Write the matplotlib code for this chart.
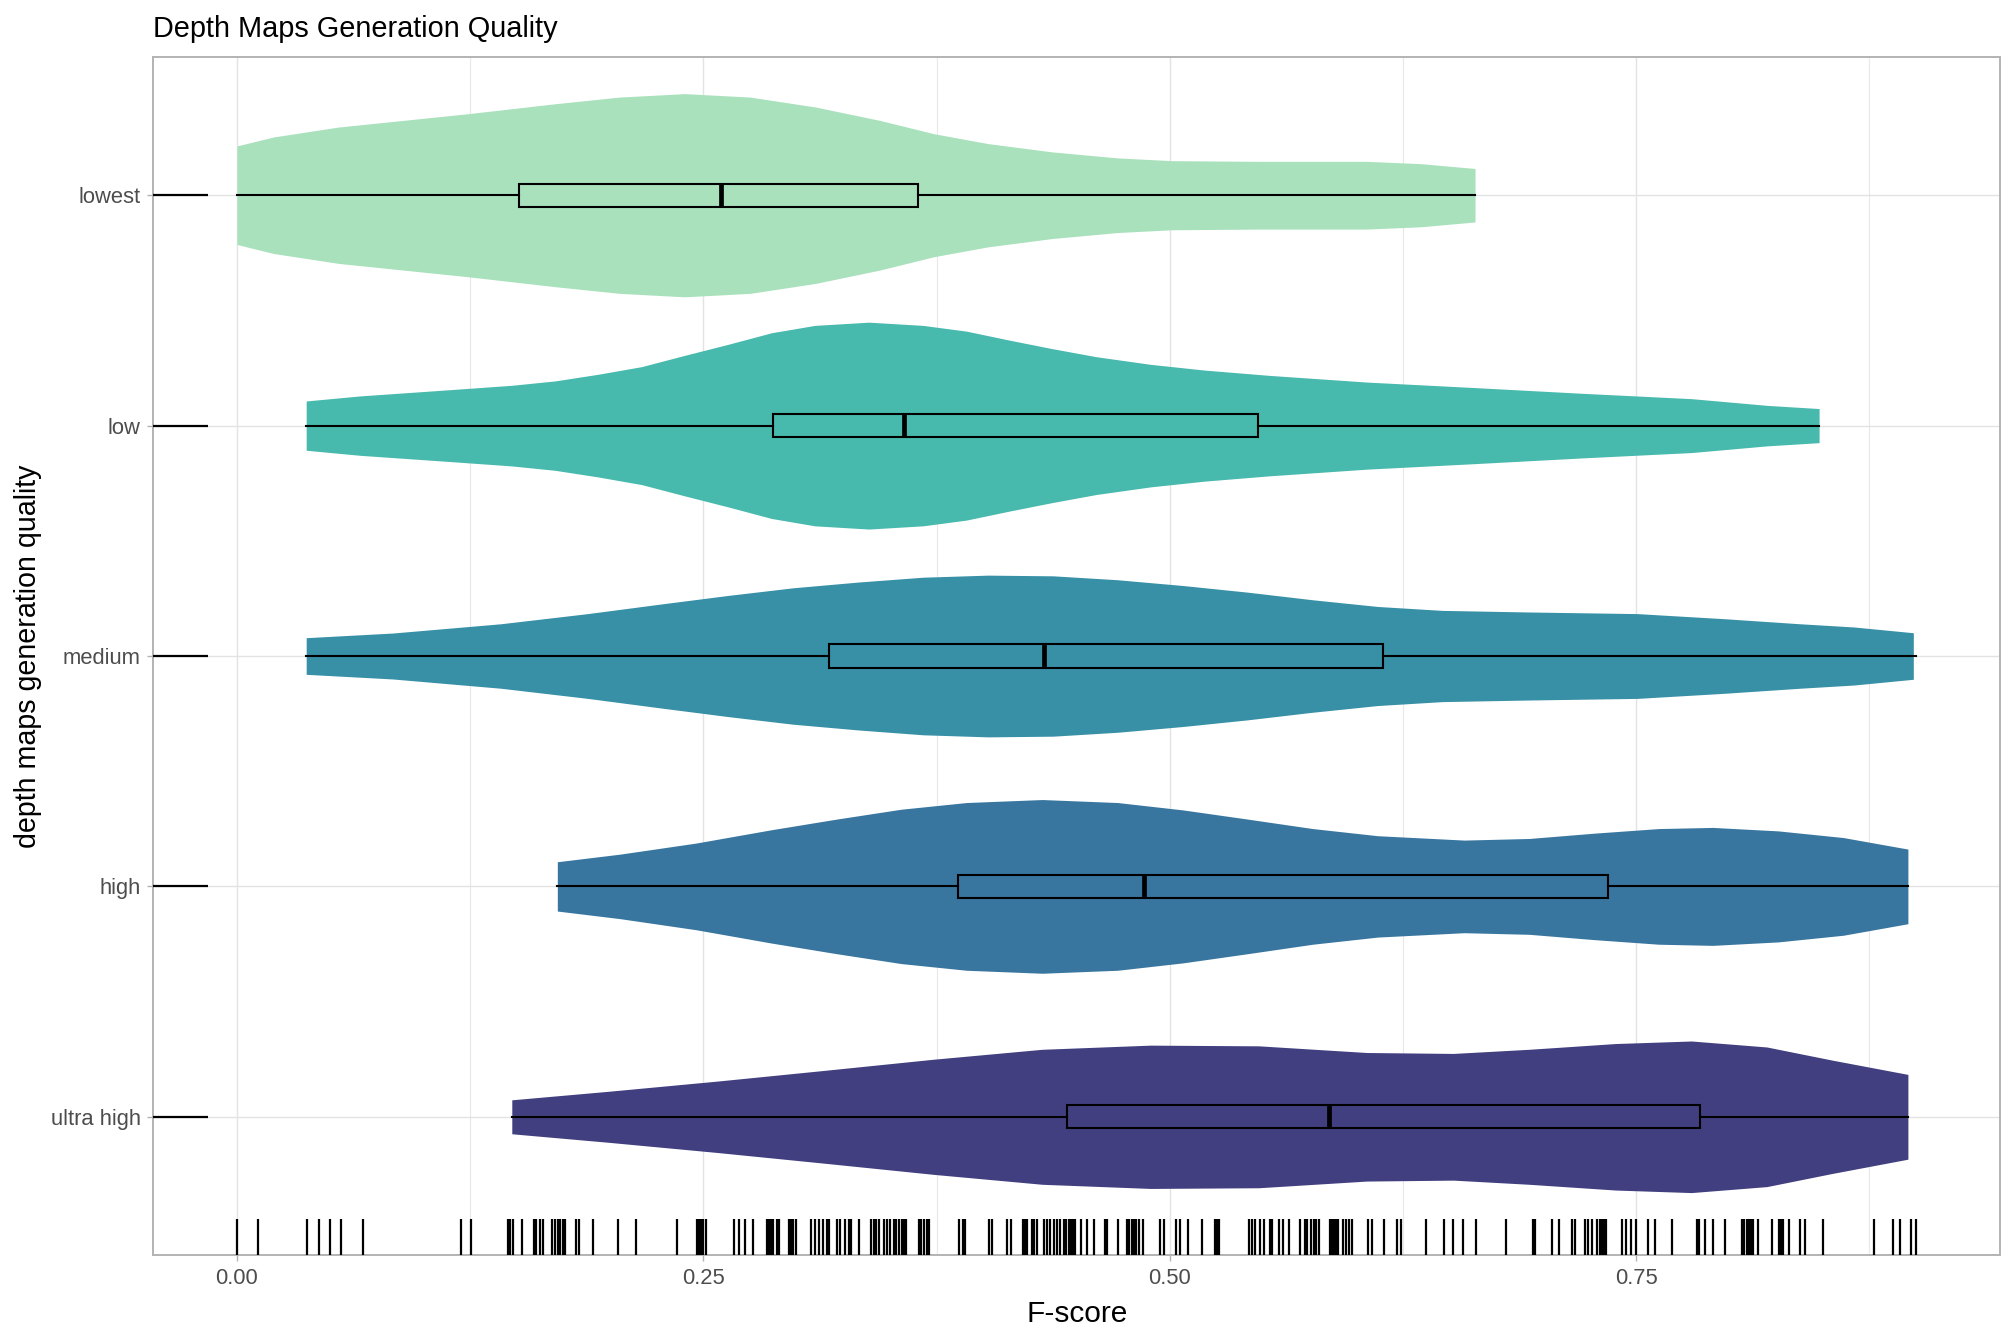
import matplotlib.pyplot as plt
from matplotlib.ticker import MultipleLocator

plt.rcParams['font.family'] = ['Liberation Sans', 'DejaVu Sans']

# categories, bottom to top
groups = ['ultra high', 'high', 'medium', 'low', 'lowest']
colors = ['#413F7F', '#38769F', '#3790A6', '#48B9AD', '#A9E1BD']

# violin outlines: F-score and half width (in category units)
lowest_x = [0.0, 0.0197, 0.0545, 0.0893, 0.124, 0.1705, 0.205, 0.240, 0.275, 0.310,
            0.3445, 0.3735, 0.4026, 0.437, 0.472, 0.501, 0.5476, 0.6056, 0.6346, 0.6636]
lowest_w = [0.214, 0.253, 0.296, 0.325, 0.354, 0.397, 0.426, 0.441, 0.426, 0.383,
            0.325, 0.267, 0.224, 0.188, 0.162, 0.150, 0.147, 0.147, 0.137, 0.116]

low_x = [0.0371, 0.0661, 0.1125, 0.1473, 0.1705, 0.1937, 0.2169, 0.240, 0.2633, 0.2865,
         0.3097, 0.3387, 0.3677, 0.391, 0.414, 0.437, 0.4606, 0.4896, 0.5186, 0.5534,
         0.6056, 0.6636, 0.7216, 0.7796, 0.820, 0.848]
low_w = [0.107, 0.129, 0.155, 0.175, 0.194, 0.223, 0.256, 0.305, 0.353, 0.403,
         0.435, 0.449, 0.435, 0.410, 0.371, 0.334, 0.299, 0.266, 0.241, 0.218,
         0.189, 0.165, 0.140, 0.117, 0.088, 0.074]

medium_x = [0.0371, 0.0835, 0.1415, 0.188, 0.2285, 0.2633, 0.298, 0.333, 0.3677, 0.4026,
            0.4374, 0.472, 0.507, 0.5418, 0.5766, 0.6114, 0.646, 0.6926, 0.7506, 0.797,
            0.8376, 0.8666, 0.8985]
medium_w = [0.0795, 0.0997, 0.140, 0.184, 0.227, 0.263, 0.296, 0.321, 0.342, 0.351,
            0.348, 0.331, 0.306, 0.277, 0.244, 0.215, 0.198, 0.191, 0.184, 0.162,
            0.140, 0.126, 0.101]

high_x = [0.1717, 0.2053, 0.246, 0.2865, 0.3213, 0.356, 0.391, 0.4316, 0.472, 0.507,
          0.5418, 0.5766, 0.6114, 0.6578, 0.6926, 0.7274, 0.762, 0.791, 0.826, 0.861, 0.8956]
high_w = [0.107, 0.140, 0.188, 0.246, 0.292, 0.335, 0.364, 0.377, 0.364, 0.332,
          0.292, 0.251, 0.220, 0.201, 0.208, 0.231, 0.251, 0.256, 0.241, 0.212, 0.162]

ultra_x = [0.1473, 0.1995, 0.2575, 0.3155, 0.3735, 0.4316, 0.4896, 0.5476, 0.6056, 0.652,
           0.6926, 0.739, 0.7796, 0.820, 0.855, 0.8956]
ultra_w = [0.0737, 0.111, 0.155, 0.202, 0.250, 0.293, 0.311, 0.308, 0.279, 0.275,
           0.293, 0.318, 0.329, 0.303, 0.246, 0.184]

violin_x = [ultra_x, high_x, medium_x, low_x, lowest_x]
violin_w = [ultra_w, high_w, medium_w, low_w, lowest_w]

# box plot summaries (ultra high .. lowest)
mins = [0.1473, 0.1717, 0.0371, 0.0371, 0.0]
q1s = [0.4449, 0.3863, 0.3173, 0.2871, 0.1514]
medians = [0.5853, 0.4860, 0.4327, 0.3573, 0.2593]
q3s = [0.7842, 0.7350, 0.6143, 0.5470, 0.3649]
maxs = [0.8956, 0.8956, 0.9000, 0.8480, 0.6636]

# all F-scores shown in the bottom rug
rug = [0.0000, 0.0113, 0.0374, 0.0440, 0.0500, 0.0556, 0.0677, 0.1200, 0.1254, 0.1452,
       0.1465, 0.1482, 0.1529, 0.1593, 0.1604, 0.1625, 0.1640, 0.1689, 0.1702, 0.1718,
       0.1732, 0.1745, 0.1757, 0.1816, 0.1832, 0.1907, 0.2041, 0.2139,
       0.2361, 0.2464, 0.2477, 0.2489, 0.2500, 0.2513, 0.2664, 0.2693, 0.2723, 0.2768,
       0.2839, 0.2852, 0.2864, 0.2875, 0.2893, 0.2904, 0.2957, 0.2970, 0.2982, 0.2995,
       0.3075, 0.3100, 0.3122, 0.3143, 0.3161, 0.3173, 0.3214, 0.3234, 0.3261, 0.3279,
       0.3291, 0.3332, 0.3398, 0.3413, 0.3427, 0.3439, 0.3466, 0.3482, 0.3500, 0.3520,
       0.3532, 0.3547, 0.3564, 0.3577, 0.3588, 0.3654, 0.3668, 0.3681, 0.3697, 0.3707,
       0.3870, 0.3893, 0.3904, 0.4030, 0.4048, 0.4125, 0.4148, 0.4213, 0.4223, 0.4234,
       0.4263, 0.4273, 0.4288, 0.4324, 0.4341, 0.4359, 0.4377, 0.4396, 0.4414, 0.4432,
       0.4445, 0.4457, 0.4470, 0.4482, 0.4493, 0.4522, 0.4557,
       0.4595, 0.4650, 0.4664, 0.4721, 0.4770, 0.4782, 0.4796, 0.4809, 0.4821, 0.4836,
       0.4857, 0.4946, 0.4971, 0.5034, 0.5057, 0.5096, 0.5175, 0.5241, 0.5252, 0.5262,
       0.5427, 0.5439, 0.5459, 0.5484, 0.5505, 0.5537, 0.5548, 0.5587, 0.5609, 0.5641,
       0.5700, 0.5725, 0.5737, 0.5754, 0.5771, 0.5786, 0.5800, 0.5857, 0.5868, 0.5879,
       0.5889, 0.5902, 0.5927, 0.5946, 0.5962, 0.5978, 0.6064, 0.6086, 0.6148, 0.6220,
       0.6239, 0.6375, 0.6470, 0.6518, 0.6571, 0.6643, 0.6800,
       0.6946, 0.6957, 0.7050, 0.7086, 0.7155, 0.7171, 0.7227, 0.7241, 0.7262, 0.7289,
       0.7303, 0.7316, 0.7328, 0.7337, 0.7423, 0.7443, 0.7471, 0.7496, 0.7562, 0.7598,
       0.7693, 0.7823, 0.7836, 0.7868, 0.7911, 0.7978, 0.8068, 0.8078, 0.8091, 0.8103,
       0.8116, 0.8128, 0.8151, 0.8230, 0.8264, 0.8277, 0.8287, 0.8319, 0.8375, 0.8407,
       0.8503, 0.8775, 0.8875, 0.8916, 0.8975, 0.9000]

fig = plt.figure(figsize=(20.16, 13.44), dpi=100)
ax = fig.add_axes([0.0759, 0.0662, 0.9162, 0.8914])

pos = list(range(1, len(groups) + 1))

for p, xs, ws, c in zip(pos, violin_x, violin_w, colors):
    ax.fill_between(xs, [p - w for w in ws], [p + w for w in ws], color=c, lw=0, zorder=2)

stats = []
for i in range(len(groups)):
    stats.append({'whislo': mins[i], 'q1': q1s[i], 'med': medians[i],
                  'q3': q3s[i], 'whishi': maxs[i], 'fliers': []})
bp = ax.bxp(stats, positions=pos, widths=0.1, orientation='horizontal',
            showcaps=False, showfliers=False, patch_artist=True,
            boxprops=dict(edgecolor='black', linewidth=1.5),
            whiskerprops=dict(color='black', linewidth=1.5),
            medianprops=dict(color='black', linewidth=3.4, solid_capstyle='butt'),
            zorder=3)
for patch, c in zip(bp['boxes'], colors):
    patch.set_facecolor(c)

# rugs
ax.vlines(rug, 0, 0.03, transform=ax.get_xaxis_transform(), color='black', lw=1.6, zorder=4)
ax.hlines(pos, 0, 0.03, transform=ax.get_yaxis_transform(), color='black', lw=1.6, zorder=4)

ax.set_xlim(-0.045, 0.945)
ax.set_ylim(0.4, 5.6)
ax.set_yticks(pos)
ax.set_yticklabels(groups)
ax.xaxis.set_major_locator(MultipleLocator(0.25))
ax.xaxis.set_minor_locator(MultipleLocator(0.125))
ax.set_xticks([0, 0.25, 0.5, 0.75])
ax.set_xticklabels(['0.00', '0.25', '0.50', '0.75'])

ax.set_axisbelow(True)
ax.grid(True, which='major', color='#E3E3E3', lw=1.0)
ax.grid(True, which='minor', axis='x', color='#E8E8E8', lw=0.8)
ax.tick_params(which='major', length=4, width=1.0, color='#B3B3B3', pad=5,
               labelsize=15.8, labelcolor='#4D4D4D')
ax.tick_params(which='minor', length=0)
for s in ax.spines.values():
    s.set_color('#B3B3B3')
    s.set_linewidth(1.4)

fig.text(153 / 2016, 1 - 37 / 1344, 'Depth Maps Generation Quality', fontsize=20.8,
         ha='left', va='baseline')
fig.text(1077 / 2016, 1 - 1314 / 1344, 'F-score', fontsize=21.5, ha='center', va='center')
fig.text(28 / 2016, 1 - 656 / 1344, 'depth maps generation quality', fontsize=20.6,
         ha='center', va='center', rotation=90)

fig.savefig('out.png', dpi=100)
